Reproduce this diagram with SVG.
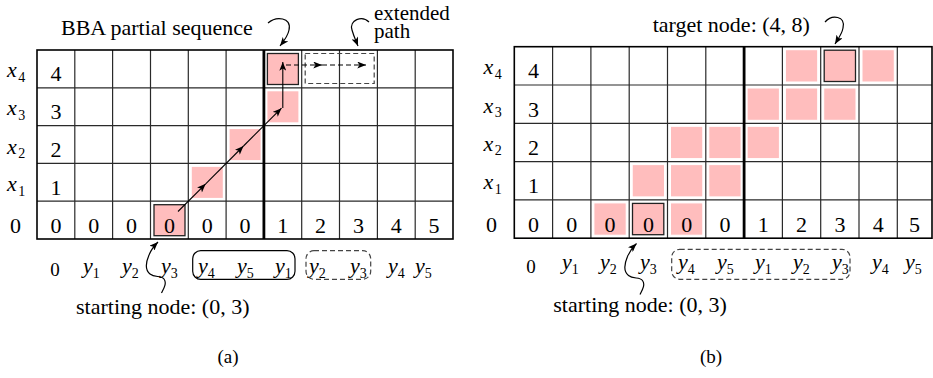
<svg xmlns="http://www.w3.org/2000/svg" width="933" height="378" viewBox="0 0 933 378" font-family="'Liberation Serif', 'DejaVu Serif', 'Times New Roman', serif">
  <style>
    text { font-family: "Liberation Serif", "DejaVu Serif", "Times New Roman", serif; fill: #000; }
    .t22 { font-size: 22px; }
    .t21 { font-size: 21px; }
    .num { font-size: 22px; text-anchor: middle; }
    .var { font-size: 22px; font-style: italic; }
    .sub { font-size: 14px; font-style: normal; }
    .lab { font-size: 19px; }
    .yl { font-size: 22px; font-style: italic; }
    .ysub { font-size: 14px; font-style: normal; }
    .cap { font-size: 19px; text-anchor: middle; }
    .grid { fill: none; stroke: #2a2a2a; stroke-width: 1.2; }
    .frame { fill: none; stroke: #000; stroke-width: 1.6; }
    .split { stroke: #000; stroke-width: 2.8; }
    .hit { fill: #ffbdbd; }
    .hitb { fill: #ffbdbd; stroke: #222; stroke-width: 1.3; }
    .hitw { fill: #ffbdbd; stroke: #fff; stroke-width: 1; }
    .dbox { fill: none; stroke: #444; stroke-width: 1.2; stroke-dasharray: 5 3; }
    .sbox { fill: none; stroke: #000; stroke-width: 1.2; }
    .path { fill: none; stroke: #000; stroke-width: 1.1; marker-end: url(#dart); }
    .dpath { fill: none; stroke: #000; stroke-width: 1.1; stroke-dasharray: 5 3; marker-end: url(#dart); }
    .curl { fill: none; stroke: #000; stroke-width: 1.2; marker-end: url(#dart); }
  </style>
  <defs>
    <marker id="dart" viewBox="0 0 10 8" refX="10" refY="4" markerWidth="10" markerHeight="7" markerUnits="userSpaceOnUse" orient="auto">
      <path d="M0,0 L10,4 L0,8 L2.5,4 z" fill="#000"/>
    </marker>
  </defs>

  <!-- ============ (a) ============ -->
  <g id="grid-a">
    <path class="grid" d="M74.8,50V239 M112.6,50V239 M150.5,50V239 M188.3,50V239 M226.1,50V239 M301.7,50V239 M339.5,50V239 M377.4,50V239 M415.2,50V239
                          M37,87.8H453 M37,125.6H453 M37,163.4H453 M37,201.2H453"/>
    <g id="cells-a">
      <rect id="a-start" class="hitb" x="154" y="204.7" width="31" height="31"/>
      <rect id="a-r1c4" class="hit" x="191.8" y="166.9" width="31" height="31"/>
      <rect id="a-r2c5" class="hit" x="229.6" y="129.1" width="31" height="31"/>
      <rect id="a-r3c6" class="hit" x="267.4" y="91.3" width="31" height="31"/>
      <rect id="a-r4c6" class="hitb" x="267.4" y="53.5" width="31" height="31"/>
      <rect id="a-ext" class="dbox" x="305.2" y="53.5" width="69" height="30"/>
    </g>
    <rect class="frame" x="37" y="50" width="416" height="189"/>
    <line class="split" x1="263.9" y1="50" x2="263.9" y2="239"/>
  </g>

  <g id="digits-a">
    <text class="num" x="55.9" y="81.4">4</text>
    <text class="num" x="55.9" y="119.2">3</text>
    <text class="num" x="55.9" y="157">2</text>
    <text class="num" x="55.9" y="194.8">1</text>
    <text class="num" x="55.9" y="232.6">0</text>
    <text class="num" x="93.7" y="232.6">0</text>
    <text class="num" x="131.5" y="232.6">0</text>
    <text class="num" x="169.4" y="232.6">0</text>
    <text class="num" x="207.2" y="232.6">0</text>
    <text class="num" x="245" y="232.6">0</text>
    <text class="num" x="282.8" y="232.6">1</text>
    <text class="num" x="320.6" y="232.6">2</text>
    <text class="num" x="358.5" y="232.6">3</text>
    <text class="num" x="396.3" y="232.6">4</text>
    <text class="num" x="434.1" y="232.6">5</text>
  </g>

  <g id="rows-a">
    <text class="var" x="7" y="77">x<tspan class="sub" dx="1.5" dy="4.5">4</tspan></text>
    <text class="var" x="7" y="115">x<tspan class="sub" dx="1.5" dy="4.5">3</tspan></text>
    <text class="var" x="7" y="153.5">x<tspan class="sub" dx="1.5" dy="4.5">2</tspan></text>
    <text class="var" x="7" y="191.3">x<tspan class="sub" dx="1.5" dy="4.5">1</tspan></text>
    <text class="num" x="15.5" y="233">0</text>
  </g>

  <g id="cols-a">
    <text class="lab" x="55" y="276" text-anchor="middle">0</text>
    <text class="yl" x="83" y="272.5">y<tspan class="ysub" dy="5">1</tspan></text>
    <text class="yl" x="122" y="272.5">y<tspan class="ysub" dy="5">2</tspan></text>
    <text class="yl" x="161" y="272.5">y<tspan class="ysub" dy="5">3</tspan></text>
    <text class="yl" x="198" y="272.5">y<tspan class="ysub" dy="5">4</tspan></text>
    <text class="yl" x="237" y="272.5">y<tspan class="ysub" dy="5">5</tspan></text>
    <text class="yl" x="275" y="272.5">y<tspan class="ysub" dy="5">1</tspan></text>
    <text class="yl" x="309" y="272.5">y<tspan class="ysub" dy="5">2</tspan></text>
    <text class="yl" x="350" y="272.5">y<tspan class="ysub" dy="5">3</tspan></text>
    <text class="yl" x="388" y="272.5">y<tspan class="ysub" dy="5">4</tspan></text>
    <text class="yl" x="415" y="272.5">y<tspan class="ysub" dy="5">5</tspan></text>
    <rect class="sbox" x="192.7" y="250.7" width="102.3" height="28.6" rx="8"/>
    <rect class="dbox" x="306" y="250.7" width="64.7" height="28.6" rx="8"/>
  </g>

  <g id="connectors-a">
    <path class="path" d="M178,211.5 L205.7,183.8"/>
    <path class="path" d="M205.7,183.8 L243.5,146"/>
    <path class="path" d="M243.5,146 L281.5,108.2"/>
    <path class="path" d="M282.8,108 L282.8,62"/>
    <path class="dpath" d="M286,65 L322,65"/>
    <path class="dpath" d="M322,65 L366,65"/>
    <path class="curl" d="M268,23 C276,16 292,17 289,30 C288,36 284,41 280,46"/>
    <path class="curl" d="M369,22 C362,15 349,20 352,30 C354,37 356,41 358,46"/>
    <path class="curl" d="M161.5,293 C164,288 167,283 164,279 C161,275 155,278 150,274 C145,270 146,262 149,255 C151,250 154,246 158,242"/>
  </g>

  <g id="notes-a">
    <text class="t22" x="61" y="35">BBA partial sequence</text>
    <text class="t21" x="374" y="19.5">extended</text>
    <text class="t21" x="374" y="38">path</text>
    <text class="t22" x="76" y="313.5">starting node: (0, 3)</text>
    <text class="cap" x="228" y="363">(a)</text>
  </g>

  <!-- ============ (b) ============ -->
  <g id="grid-b">
    <g id="cells-b">
      <rect class="hitw" x="593.9" y="202.9" width="32.3" height="32.3"/>
      <rect id="b-start" class="hitb" x="632.5" y="203.4" width="31.3" height="31.3"/>
      <rect class="hitw" x="670.5" y="202.9" width="32.3" height="32.3"/>
      <rect class="hitw" x="632.2" y="164.6" width="32.3" height="32.3"/>
      <rect class="hitw" x="670.5" y="164.6" width="32.3" height="32.3"/>
      <rect class="hitw" x="708.8" y="164.6" width="32.3" height="32.3"/>
      <rect class="hitw" x="670.5" y="126.3" width="32.3" height="32.3"/>
      <rect class="hitw" x="708.8" y="126.3" width="32.3" height="32.3"/>
      <rect class="hitw" x="747.1" y="126.3" width="32.3" height="32.3"/>
      <rect class="hitw" x="747.1" y="88" width="32.3" height="32.3"/>
      <rect class="hitw" x="785.4" y="88" width="32.3" height="32.3"/>
      <rect class="hitw" x="823.7" y="88" width="32.3" height="32.3"/>
      <rect class="hitw" x="785.4" y="49.7" width="32.3" height="32.3"/>
      <rect id="b-target" class="hitb" x="824.2" y="50.2" width="31.3" height="31.3"/>
      <rect class="hitw" x="862" y="49.7" width="32.3" height="32.3"/>
    </g>
    <path class="grid" d="M552.6,46.7V238.2 M590.9,46.7V238.2 M629.2,46.7V238.2 M667.5,46.7V238.2 M705.8,46.7V238.2 M782.4,46.7V238.2 M820.7,46.7V238.2 M859,46.7V238.2 M897.3,46.7V238.2
                          M514.3,85H932 M514.3,123.3H932 M514.3,161.6H932 M514.3,199.9H932"/>
    <rect class="frame" x="514.3" y="46.7" width="417.7" height="191.5"/>
    <line class="split" x1="744.1" y1="46.7" x2="744.1" y2="238.2"/>
  </g>

  <g id="digits-b">
    <text class="num" x="533.5" y="78.3">4</text>
    <text class="num" x="533.5" y="116.6">3</text>
    <text class="num" x="533.5" y="154.9">2</text>
    <text class="num" x="533.5" y="193.2">1</text>
    <text class="num" x="533.5" y="231.6">0</text>
    <text class="num" x="571.8" y="231.6">0</text>
    <text class="num" x="610.1" y="231.6">0</text>
    <text class="num" x="648.4" y="231.6">0</text>
    <text class="num" x="686.7" y="231.6">0</text>
    <text class="num" x="725" y="231.6">0</text>
    <text class="num" x="763.3" y="231.6">1</text>
    <text class="num" x="801.6" y="231.6">2</text>
    <text class="num" x="839.9" y="231.6">3</text>
    <text class="num" x="878.2" y="231.6">4</text>
    <text class="num" x="914.6" y="231.6">5</text>
  </g>

  <g id="rows-b">
    <text class="var" x="483.5" y="74.3">x<tspan class="sub" dx="1.5" dy="4.5">4</tspan></text>
    <text class="var" x="483.5" y="112.6">x<tspan class="sub" dx="1.5" dy="4.5">3</tspan></text>
    <text class="var" x="483.5" y="150.9">x<tspan class="sub" dx="1.5" dy="4.5">2</tspan></text>
    <text class="var" x="483.5" y="189.2">x<tspan class="sub" dx="1.5" dy="4.5">1</tspan></text>
    <text class="num" x="491.5" y="231.6">0</text>
  </g>

  <g id="cols-b">
    <text class="lab" x="531" y="273" text-anchor="middle">0</text>
    <text class="yl" x="562" y="268.5">y<tspan class="ysub" dy="5">1</tspan></text>
    <text class="yl" x="600" y="268.5">y<tspan class="ysub" dy="5">2</tspan></text>
    <text class="yl" x="640" y="268.5">y<tspan class="ysub" dy="5">3</tspan></text>
    <text class="yl" x="678" y="268.5">y<tspan class="ysub" dy="5">4</tspan></text>
    <text class="yl" x="717" y="268.5">y<tspan class="ysub" dy="5">5</tspan></text>
    <text class="yl" x="755" y="268.5">y<tspan class="ysub" dy="5">1</tspan></text>
    <text class="yl" x="793" y="268.5">y<tspan class="ysub" dy="5">2</tspan></text>
    <text class="yl" x="832" y="268.5">y<tspan class="ysub" dy="5">3</tspan></text>
    <text class="yl" x="872" y="268.5">y<tspan class="ysub" dy="5">4</tspan></text>
    <text class="yl" x="905" y="268.5">y<tspan class="ysub" dy="5">5</tspan></text>
    <rect class="dbox" x="671.7" y="249.3" width="178.3" height="30" rx="8"/>
  </g>

  <g id="connectors-b">
    <path class="curl" d="M825,22 C832,14 846,16 843,28 C842,34 838,39 835,44"/>
    <path class="curl" transform="translate(478.5,1.5)" d="M161.5,293 C164,288 167,283 164,279 C161,275 155,278 150,274 C145,270 146,262 149,255 C151,250 154,246 158,242"/>
  </g>

  <g id="notes-b">
    <text class="t22" x="652.7" y="31.7">target node: (4, 8)</text>
    <text class="t22" x="553.3" y="311.5">starting node: (0, 3)</text>
    <text class="cap" x="711" y="363">(b)</text>
  </g>
</svg>
